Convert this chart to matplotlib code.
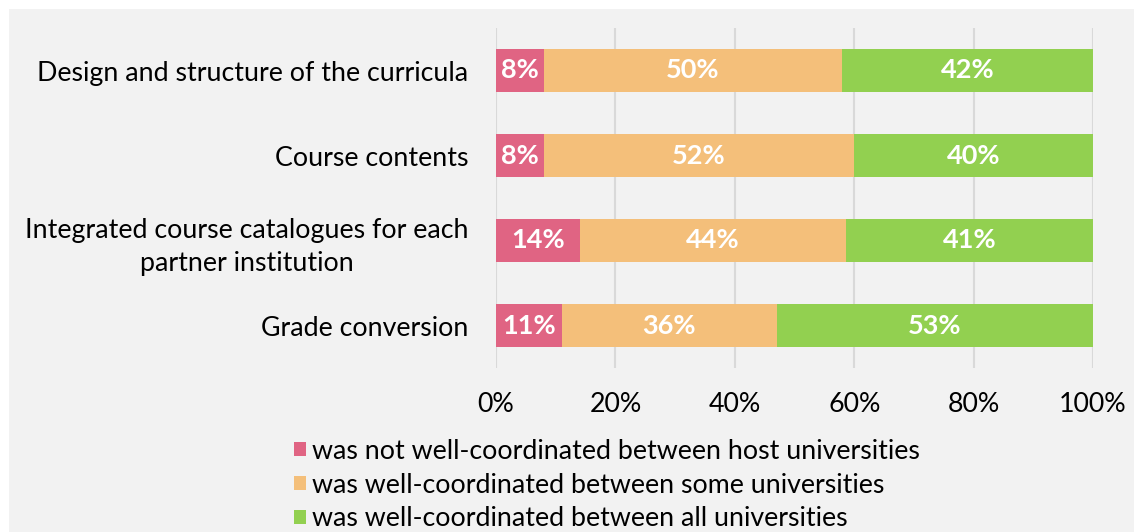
import numpy as np
import matplotlib.pyplot as plt
from matplotlib.patches import Rectangle

categories = [
    "Design and structure of the curricula",
    "Course contents",
    "Integrated course catalogues for each\npartner institution",
    "Grade conversion",
]
not_coord = [8, 8, 14, 11]
some_coord = [50, 52, 44, 36]
all_coord = [42, 40, 41, 53]
series_names = [
    "was not well-coordinated between host universities",
    "was well-coordinated between some universities",
    "was well-coordinated between all universities",
]
colors = ["#e06483", "#f4bf7a", "#92d050"]

plt.rcParams["font.family"] = ["Lato", "DejaVu Sans"]

fig = plt.figure(figsize=(11.34, 5.32), dpi=100, facecolor="white")
W, H = 1134, 532
fig.patches.append(Rectangle((9 / W, 0), 1, (H - 9) / H, transform=fig.transFigure,
                             facecolor="#f2f2f2", edgecolor="none", zorder=-10))

ax = fig.add_axes([496 / W, 1 - 368 / H, (1093 - 496) / W, 340 / H])
ax.set_facecolor("none")

data = np.array([not_coord, some_coord, all_coord], dtype=float)
shares = data / data.sum(axis=0) * 100
y = np.arange(len(categories))
left = np.zeros(len(categories))
for vals, raw, name, c in zip(shares, data, series_names, colors):
    bars = ax.barh(y, vals, left=left, height=0.5, color=c, label=name, zorder=2)
    ax.bar_label(bars, labels=[f"{int(v)}%" for v in raw], label_type="center",
                 color="white", fontweight="bold", fontsize=19.5)
    left += vals

ax.set_xlim(0, 100)
ax.set_ylim(len(categories) - 0.5, -0.5)
ax.set_yticks(y)
ax.set_yticklabels(categories, fontsize=19.3, multialignment="center",
                   linespacing=1.4)
ax.set_xticks(np.arange(0, 101, 20))
ax.set_xticklabels([f"{t}%" for t in range(0, 101, 20)], fontsize=19.3)
ax.tick_params(length=0)
ax.tick_params(axis="y", pad=20)
ax.tick_params(axis="x", pad=17)
ax.grid(axis="x", color="#d9d9d9", linewidth=1.5, zorder=0)
for s in ax.spines.values():
    s.set_visible(False)

fig.legend(loc="upper left", bbox_to_anchor=(283 / W, 1 - 428 / H), frameon=False,
           fontsize=19.3, handlelength=0.45, handleheight=0.45, handletextpad=0.25,
           labelspacing=0.33, borderaxespad=0)

fig.savefig("out.png", dpi=100, facecolor=fig.get_facecolor())
